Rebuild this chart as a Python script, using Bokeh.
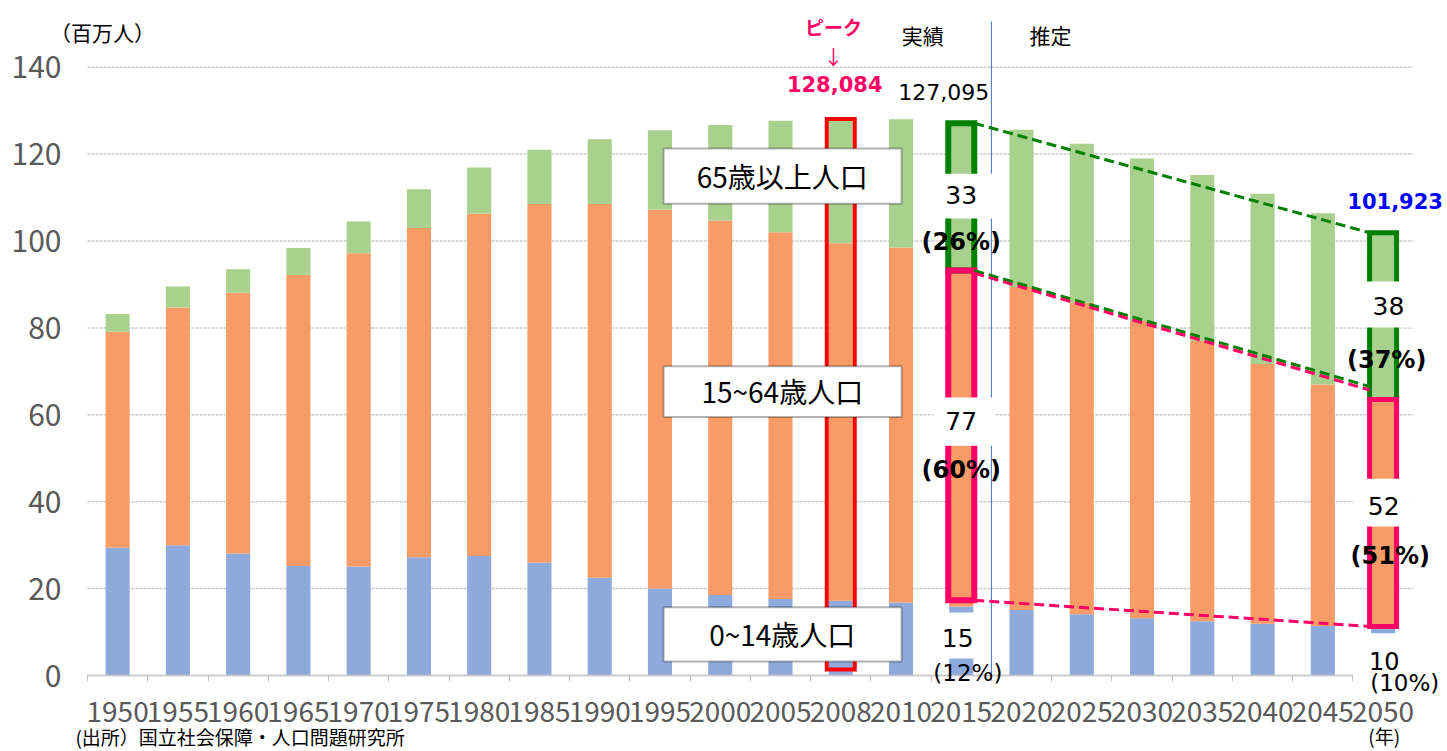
from bokeh.plotting import figure
from bokeh.models import Range1d, FixedTicker, BoxAnnotation, Label, ColumnDataSource
from bokeh.embed import file_html
from bokeh.resources import INLINE

# ---------------- data (millions of people) ----------------
years = ["1950", "1955", "1960", "1965", "1970", "1975", "1980", "1985", "1990", "1995",
         "2000", "2005", "2008", "2010", "2015", "2020", "2025", "2030", "2035", "2040",
         "2045", "2050"]
age_0_14 = [29.4, 30.0, 28.1, 25.2, 25.1, 27.2, 27.5, 26.0, 22.5, 20.0,
            18.5, 17.6, 17.2, 16.8, 15.9, 15.1, 14.1, 13.2, 12.5, 11.9,
            11.4, 10.8]
age_15_64 = [49.7, 54.7, 60.0, 67.0, 72.1, 75.8, 78.8, 82.5, 86.0, 87.2,
             86.2, 84.4, 82.3, 81.7, 77.3, 74.3, 71.7, 68.4, 64.6, 59.8,
             55.6, 52.7]
age_65 = [4.1, 4.8, 5.4, 6.2, 7.3, 8.9, 10.6, 12.5, 14.9, 18.3,
          22.0, 25.7, 28.6, 29.5, 33.9, 36.2, 36.6, 37.4, 38.1, 39.2,
          39.4, 38.4]
y_ticks = [0, 20, 40, 60, 80, 100, 120, 140]
series_names = ["65歳以上人口", "15~64歳人口", "0~14歳人口"]
label_2015 = {"old": "33", "old_pct": "(26%)", "work": "77", "work_pct": "(60%)",
              "child": "15", "child_pct": "(12%)", "total": "127,095"}
label_2050 = {"old": "38", "old_pct": "(37%)", "work": "52", "work_pct": "(51%)",
              "child": "10", "child_pct": "(10%)", "total": "101,923"}
peak_label = "128,084"

BLUE = "#8EA9DB"
ORANGE = "#F99B66"
GREEN = "#A9D18E"
PINK = "#FF0066"
DGREEN = "#008000"
GRAY = "#595959"
JP = "Noto Sans CJK JP"
DV = "DejaVu Sans"

n = len(years)
xs = [i + 0.5 for i in range(n)]
mid = [a + b for a, b in zip(age_0_14, age_15_64)]
total = [a + b + c for a, b, c in zip(age_0_14, age_15_64, age_65)]

src = ColumnDataSource(dict(x=xs, a=age_0_14, b=age_15_64, c=age_65))

# frame covers the whole canvas; axes are pinned at x=0 / y=0
p = figure(frame_width=1447, frame_height=751,
           x_range=Range1d(-1.4437, 22.569), y_range=Range1d(-17.49, 155.35),
           output_backend="svg", toolbar_location=None,
           min_border_left=0, min_border_right=0, min_border_top=0, min_border_bottom=0)
p.outline_line_color = None
p.background_fill_color = "white"
p.xgrid.visible = False
p.ygrid.visible = False

# horizontal gridlines across the plot area
p.segment(x0=[0] * len(y_ticks), x1=[n] * len(y_ticks), y0=y_ticks, y1=y_ticks,
          line_color="#cccccc", line_width=1.5, line_dash="3 1")

p.vbar_stack(["a", "b", "c"], x="x", width=0.4, color=[BLUE, ORANGE, GREEN],
             line_color=None, source=src)

# axes
p.yaxis.fixed_location = 0
p.yaxis.ticker = FixedTicker(ticks=y_ticks)
p.yaxis.axis_line_color = None
p.yaxis.major_tick_line_color = None
p.yaxis.minor_tick_line_color = None
p.yaxis.major_label_standoff = 20
p.yaxis.major_label_text_font = JP
p.yaxis.major_label_text_font_size = "30px"
p.yaxis.major_label_text_color = GRAY

p.xaxis.fixed_location = 0
p.xaxis.bounds = (0, n)
p.xaxis.ticker = FixedTicker(ticks=xs, minor_ticks=list(range(n + 1)))
p.xaxis.major_label_overrides = {x: y for x, y in zip(xs, years)}
p.xaxis.major_tick_line_color = None
p.xaxis.major_tick_out = 0
p.xaxis.minor_tick_line_color = "#bfbfbf"
p.xaxis.minor_tick_out = 6
p.xaxis.minor_tick_in = 0
p.xaxis.axis_line_color = "#c8c8c8"
p.xaxis.axis_line_width = 1.5
p.xaxis.major_label_standoff = 19
p.xaxis.major_label_text_font = JP
p.xaxis.major_label_text_font_size = "28px"
p.xaxis.major_label_text_color = GRAY

i08 = years.index("2008")
i15 = years.index("2015")
i50 = years.index("2050")
i20 = years.index("2020")

# divider between actual and projection
p.segment(x0=[i20], y0=[0], x1=[i20], y1=[150.5], line_color="#4472C4", line_width=1)

# highlight boxes
p.quad(left=[xs[i08] - 0.232], right=[xs[i08] + 0.232], bottom=[1.4], top=[total[i08]],
       fill_color=None, line_color="#FF0000", line_width=4, line_join="miter")
hw15 = 0.216
hw50 = 0.224
p.quad(left=[xs[i15] - hw15], right=[xs[i15] + hw15], bottom=[mid[i15]], top=[total[i15]],
       fill_color=None, line_color=DGREEN, line_width=6, line_join="miter")
p.quad(left=[xs[i50] - hw50], right=[xs[i50] + hw50], bottom=[mid[i50]], top=[total[i50]],
       fill_color=None, line_color=DGREEN, line_width=5, line_join="miter")
p.quad(left=[xs[i15] - hw15], right=[xs[i15] + hw15], bottom=[age_0_14[i15] + 1.4], top=[mid[i15]],
       fill_color=None, line_color=PINK, line_width=6, line_join="miter")
p.quad(left=[xs[i50] - hw50], right=[xs[i50] + hw50], bottom=[age_0_14[i50] + 0.5], top=[mid[i50]],
       fill_color=None, line_color=PINK, line_width=5, line_join="miter")

# trend dashed lines
x1 = xs[i15] + hw15
x2 = xs[i50] - hw50
p.line([x1, x2], [total[i15], total[i50]], line_color=DGREEN, line_width=3, line_dash="10 5")
p.line([x1, x2], [mid[i15], mid[i50] + 3.0], line_color=DGREEN, line_width=3, line_dash="10 5")
p.line([x1, x2], [mid[i15] - 0.6, mid[i50] + 2.2], line_color=PINK, line_width=3, line_dash="10 5")
p.line([x1, x2], [age_0_14[i15] + 1.4, age_0_14[i50] + 0.5], line_color=PINK, line_width=3,
       line_dash="10 5")


def box(l, r, b, t, line=None):
    p.add_layout(BoxAnnotation(left=l, right=r, bottom=b, top=t, fill_color="white", fill_alpha=1,
                               line_color=line, line_width=2 if line else 0, level="annotation"))


def lab(x, y, text, size, font=DV, color="black", bold=False, align="center", baseline="middle"):
    p.add_layout(Label(x=x, y=y, text=text, text_font=font, text_font_size=size,
                       text_color=color, text_font_style="bold" if bold else "normal",
                       text_align=align, text_baseline=baseline))


# white backgrounds behind value labels
box(xs[i15] - 0.46, xs[i15] + 0.57, 105.2, 115.5)
box(xs[i15] - 0.46, xs[i15] + 0.57, 52.9, 64.0)
box(xs[i15] - 0.43, xs[i15] + 0.40, 3.9, 14.5)
box(xs[i50] - 0.41, xs[i50] + 0.59, 80.1, 90.7)
box(xs[i50] - 0.50, xs[i50] + 0.50, 34.3, 45.3)
box(xs[i50] - 0.50, xs[i50] + 0.95, -4.6, 9.7)

# category boxes
for (b, t, cy), name in zip([(108.6, 121.3, 114.9), (59.5, 71.2, 65.4), (3.2, 15.7, 9.5)], series_names):
    box(9.56, 13.51, b, t, line="black")
    lab(11.53, cy, name, "28px", font=JP)

# value labels 2015
lab(xs[i15], 110.5, label_2015["old"], "25px")
lab(xs[i15], 99.7, label_2015["old_pct"], "24px", bold=True)
lab(xs[i15], 58.5, label_2015["work"], "25px")
lab(xs[i15], 47.2, label_2015["work_pct"], "24px", bold=True)
lab(xs[i15] - 0.06, 8.7, label_2015["child"], "25px")
lab(xs[i15] + 0.11, 0.5, label_2015["child_pct"], "23px")
lab(xs[i15] - 0.29, 134.3, label_2015["total"], "22px")

# value labels 2050
lab(xs[i50] + 0.09, 85.0, label_2050["old"], "25px")
lab(xs[i50] + 0.06, 72.5, label_2050["old_pct"], "24px", bold=True)
lab(xs[i50] + 0.01, 39.1, label_2050["work"], "25px")
lab(xs[i50] + 0.12, 27.4, label_2050["work_pct"], "24px", bold=True)
lab(xs[i50] + 0.02, 3.45, label_2050["child"], "24px")
lab(xs[i50] + 0.36, -1.84, label_2050["child_pct"], "23px")
lab(xs[i50] + 0.20, 109.3, label_2050["total"], "21px", color="#0000FF", bold=True)

# peak
lab(xs[i08] - 0.12, 149.4, "ピーク", "19px", font=JP, color=PINK, bold=True)
lab(xs[i08] - 0.12, 142.5, "↓", "20px", font=JP, color=PINK)
lab(xs[i08] - 0.10, 136.2, peak_label, "21px", color=PINK, bold=True)

lab(13.86, 147.3, "実績", "21px", font=JP)
lab(15.98, 147.3, "推定", "21px", font=JP)
lab(0.25, 148.2, "（百万人）", "21px", font=JP)
lab(21.52, -13.7, "(年)", "19px", font=JP)
lab(-0.2, -17.2, "(出所）国立社会保障・人口問題研究所", "19px", font=JP, align="left", baseline="bottom")

open("out.html", "w").write(file_html(p, INLINE))
